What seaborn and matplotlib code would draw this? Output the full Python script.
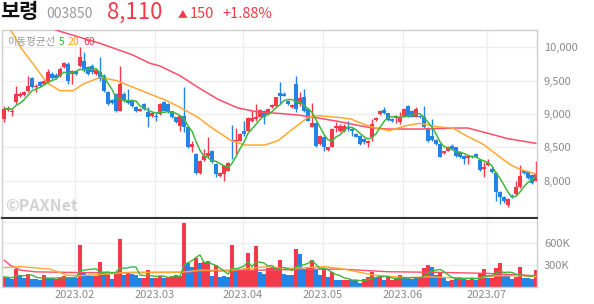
import numpy as np
import pandas as pd
import matplotlib
matplotlib.use("Agg")
import matplotlib.pyplot as plt
import seaborn as sns

# ---------------- data ----------------
opens = [8925, 9060, 9025, 9175, 9275, 9290, 9350, 9540, 9400, 9475,
         9450, 9475, 9600, 9590, 9575, 9700, 9750, 9600, 9650, 9725,
         9800, 9710, 9725, 9600, 9625, 9575, 9325, 9210, 9300, 9050,
         9300, 9210, 9210, 9110, 9050, 9150, 9025, 8975, 8975, 9000,
         9175, 9150, 9040, 8950, 8825, 8975, 8810, 8510, 8400, 8110,
         8310, 8375, 8450, 8250, 8075, 8100, 8150, 8615, 8600, 8600,
         8750, 8750, 8900, 8925, 8960, 9050, 9000, 9100, 9125, 9310,
         9300, 9200, 9100, 9450, 9150, 9250, 9075, 8810, 8860, 8550,
         8660, 8460, 8510, 8790, 8740, 8740, 8810, 8775, 8700, 8675,
         8625, 8570, 8650, 8910, 9000, 9060, 9010, 8925, 8940, 8875,
         8960, 9125, 9050, 8960, 8975, 8960, 8790, 8675, 8610, 8550,
         8410, 8450, 8525, 8500, 8425, 8375, 8340, 8350, 8400, 8310,
         8175, 8240, 8175, 8110, 7825, 7760, 7630, 7775, 7800, 7900,
         8150, 8125, 8090, 8000]
highs = [9125, 9125, 9075, 9425, 9325, 9350, 9575, 9560, 9450, 9500,
         9525, 9675, 9625, 9610, 9700, 9780, 9775, 9660, 9660, 10000,
         9925, 9725, 9750, 9680, 9850, 9600, 9350, 9225, 9310, 9725,
         9325, 9375, 9225, 9125, 9090, 9160, 9100, 9025, 9025, 9160,
         9200, 9160, 9050, 8960, 8990, 9400, 8820, 8600, 8410, 8310,
         8475, 8650, 8460, 8260, 8125, 8235, 8275, 8840, 8790, 8710,
         8900, 8950, 9050, 9150, 9070, 9060, 9090, 9150, 9260, 9475,
         9325, 9210, 9150, 9575, 9325, 9375, 9090, 9160, 8875, 8690,
         8670, 8510, 8790, 8875, 8850, 8850, 8900, 8790, 8710, 8690,
         8640, 8610, 8925, 8960, 9060, 9110, 9020, 8935, 8980, 9025,
         9090, 9135, 9060, 9100, 8990, 9125, 8800, 8925, 8620, 8560,
         8450, 8520, 8550, 8510, 8435, 8385, 8390, 8385, 8410, 8320,
         8275, 8325, 8200, 8125, 7850, 7775, 7740, 7800, 8000, 8230,
         8160, 8140, 8100, 8300]
lows = [8875, 9050, 8975, 9150, 9250, 9275, 9325, 9390, 9325, 9400,
        9440, 9450, 9525, 9520, 9560, 9690, 9450, 9450, 9590, 9710,
        9625, 9590, 9600, 9590, 9500, 9325, 9140, 9150, 9025, 9050,
        9175, 9150, 9110, 9025, 9040, 9060, 8800, 8960, 8900, 8990,
        9040, 9010, 8940, 8860, 8750, 8725, 8490, 8425, 8100, 8100,
        8300, 8350, 8260, 8050, 8060, 8000, 8140, 8325, 8400, 8590,
        8675, 8740, 8875, 8900, 8950, 8850, 8990, 9090, 9110, 9150,
        9265, 9140, 9090, 9025, 9125, 9025, 8890, 8800, 8510, 8540,
        8450, 8440, 8500, 8725, 8730, 8730, 8750, 8675, 8650, 8540,
        8550, 8510, 8600, 8900, 8990, 9000, 8900, 8880, 8860, 8850,
        8950, 8950, 8950, 8950, 8940, 8790, 8580, 8600, 8540, 8350,
        8400, 8440, 8470, 8360, 8340, 8250, 8250, 8340, 8350, 8150,
        8050, 8225, 8110, 7700, 7650, 7660, 7600, 7740, 7775, 7890,
        8100, 8030, 7950, 7990]
closes = [9075, 9085, 9050, 9300, 9300, 9325, 9425, 9400, 9425, 9425,
          9500, 9625, 9540, 9540, 9675, 9760, 9500, 9650, 9600, 9850,
          9675, 9600, 9625, 9660, 9525, 9350, 9150, 9160, 9040, 9450,
          9200, 9160, 9125, 9040, 9075, 9075, 8960, 9010, 8950, 9150,
          9050, 9025, 8950, 8875, 8975, 8810, 8500, 8550, 8110, 8300,
          8375, 8410, 8275, 8100, 8110, 8225, 8260, 8600, 8615, 8700,
          8700, 8940, 8940, 8950, 9060, 8950, 9075, 9140, 9250, 9275,
          9275, 9150, 9135, 9075, 9240, 9050, 8900, 8860, 8525, 8675,
          8510, 8500, 8775, 8825, 8825, 8825, 8775, 8740, 8660, 8550,
          8575, 8600, 8850, 8940, 9040, 9010, 8910, 8890, 8970, 8960,
          9080, 8960, 8960, 9075, 8950, 8800, 8590, 8610, 8550, 8360,
          8440, 8510, 8475, 8375, 8350, 8325, 8375, 8375, 8360, 8160,
          8210, 8260, 8125, 7825, 7760, 7700, 7730, 7750, 7900, 8075,
          8110, 8040, 7960, 8110]
volumes_k = [138, 124, 106, 244, 161, 124, 170, 106, 106, 92,
             161, 124, 115, 106, 124, 152, 124, 124, 124, 576,
             198, 161, 152, 152, 336, 198, 170, 106, 184, 659,
             161, 198, 170, 161, 115, 124, 230, 115, 124, 152,
             115, 138, 152, 161, 152, 876, 323, 277, 401, 323,
             346, 355, 148, 300, 138, 148, 138, 576, 230, 230,
             240, 461, 230, 562, 207, 171, 254, 277, 254, 369,
             171, 161, 161, 521, 447, 230, 254, 369, 244, 161,
             254, 138, 198, 92, 92, 92, 92, 92, 92, 55,
             106, 138, 198, 138, 138, 92, 138, 92, 115, 161,
             134, 115, 106, 115, 138, 263, 300, 277, 161, 198,
             115, 78, 92, 124, 138, 115, 92, 115, 92, 184,
             244, 124, 124, 263, 323, 148, 148, 106, 138, 267,
             115, 115, 101, 230]
vol_up = ("rbbrbbrbbb" "rbbrrrbbbr" "bbbrrbrbrr" "brbbbrrbrr" "brrrrrbbrb"
          "rrbrbbbrbr" "rrrrbbrrrr" "bbbrbbrrbb" "rbrbbrrbbb" "rrrbrbrrrr"
          "bbbbrrrbbr" "bbrbrbrrbr" "rbrrrbbbrr" "bbbr")

ma20_idx = [0, 2, 4.5, 7.3, 10.7, 14, 17.3, 19.8, 24, 28.2, 32.3, 36.5, 40.7, 44,
            48.5, 51.8, 56.8, 60.2, 65.2, 68.5, 72.7, 76, 78.5, 83.5, 86.8, 88.5,
            92.2, 96.3, 100.5, 103.8, 108, 112.2, 115.5, 119.7, 123, 126.3, 128.8, 133]
ma20_val = [10420, 10225, 9970, 9750, 9470, 9350, 9350, 9450, 9550, 9500, 9400, 9300, 9200, 9100,
            8950, 8800, 8600, 8535, 8535, 8600, 8800, 8950, 8975, 8950, 8925, 8880,
            8800, 8750, 8825, 8860, 8810, 8790, 8675, 8550, 8400, 8250, 8175, 8100]
ma60_idx = [10, 14, 24, 32, 36.5, 39, 44, 48.5, 53.5, 58.5, 63.5, 68.5, 73.5, 78.5,
            83.5, 88.5, 92, 96, 105, 113, 116, 121, 126, 133]
ma60_val = [10330, 10240, 10060, 9890, 9760, 9720, 9575, 9400, 9220, 9090, 9030, 9010, 8985, 8940,
            8890, 8830, 8790, 8775, 8775, 8790, 8790, 8710, 8630, 8560]
vma20_idx = [0, 4, 11.5, 15.7, 19, 24, 32, 39, 44, 49, 57, 66, 71.5, 80, 84, 92.3,
             100.7, 106.5, 111.5, 118, 123, 129.8, 133]
vma20_val = [263, 277, 244, 161, 152, 170, 198, 198, 198, 230, 230, 277, 254, 277, 254, 161,
             124, 138, 124, 115, 152, 152, 138]
vma60_idx = [0, 1.5, 4, 8, 20, 30, 40, 45, 50, 60, 70, 75, 84, 96, 109, 121, 133]
vma60_val = [369, 300, 230, 205, 195, 195, 198, 200, 215, 225, 235, 240, 244, 207, 198, 184, 152]

month_start_idx = [18, 38, 60, 80, 100, 121]
month_labels = ["2023.02", "2023.03", "2023.04", "2023.05", "2023.06", "2023.07"]
price_ticks = [8000, 8500, 9000, 9500, 10000]
vol_ticks_k = [300, 600]

# ---------------- style ----------------
RED = "#f23a4a"
BLUE = "#2484e6"
GREEN = "#3cb83c"
ORANGE = "#ffa933"
CRIMSON = "#ff4d6a"
GRID = "#eeeeee"
BORDER = "#cfcfcf"
TXT = "#8a8a8a"

sns.set_theme(style="white")
plt.rcParams['font.family'] = ['Noto Sans CJK KR', 'DejaVu Sans']

W, H = 594, 304
fig = plt.figure(figsize=(W / 100, H / 100), dpi=100)


def fx(px):
    return px / W


def fy(px):
    return 1 - px / H


ax = fig.add_axes([fx(2), fy(217.7), fx(535), (217.7 - 30) / H])
axv = fig.add_axes([fx(2), fy(287), fx(535), (287 - 218.5) / H])

df = pd.DataFrame({"o": opens, "h": highs, "l": lows, "c": closes, "v": volumes_k})
df["i"] = np.arange(len(df))
df["up"] = df["c"] >= df["o"]
df["col"] = np.where(df["up"], RED, BLUE)
df["ma5"] = df["c"].rolling(5, min_periods=1).mean()
df["vma5"] = df["v"].rolling(5, min_periods=1).mean()

# grids
for a in (ax, axv):
    for m in month_start_idx:
        a.axvline(m - 0.3, color=GRID, lw=1, zorder=0)
for p in price_ticks:
    ax.axhline(p, color=GRID, lw=1, zorder=0)
for v in vol_ticks_k + [900]:
    axv.axhline(v, color=GRID, lw=1, zorder=0)

# candles
ax.vlines(df["i"], df["l"], df["h"], colors=df["col"], lw=1.0, zorder=2)
body_h = (df["c"] - df["o"]).abs().clip(lower=15)
ax.bar(df["i"], body_h, bottom=np.minimum(df["o"], df["c"]), width=0.8,
       color=df["col"], linewidth=0, zorder=3)

# moving averages
sns.lineplot(x=ma60_idx, y=ma60_val, ax=ax, color=CRIMSON, lw=1.1, zorder=4, estimator=None)
sns.lineplot(x=ma20_idx, y=ma20_val, ax=ax, color=ORANGE, lw=1.1, zorder=4, estimator=None)
sns.lineplot(data=df, x="i", y="ma5", ax=ax, color=GREEN, lw=1.1, zorder=5, estimator=None)

# volume
vcols = [RED if f == "r" else BLUE for f in vol_up]
axv.bar(df["i"], df["v"], width=0.8, color=vcols, linewidth=0, zorder=2)
sns.lineplot(x=vma60_idx, y=vma60_val, ax=axv, color=CRIMSON, lw=1.0, zorder=4, estimator=None)
sns.lineplot(x=vma20_idx, y=vma20_val, ax=axv, color=ORANGE, lw=1.0, zorder=4, estimator=None)
sns.lineplot(data=df, x="i", y="vma5", ax=axv, color=GREEN, lw=1.0, zorder=5, estimator=None)

# axes limits
for a in (ax, axv):
    a.set_xlim(-0.5, -0.5 + 535 / 4)
    a.set_xlabel("")
    a.set_ylabel("")
ax.set_ylim(7445, 10260)
axv.set_ylim(-4, 943)

# ticks
ax.yaxis.tick_right()
ax.set_yticks(price_ticks)
ax.set_yticklabels([f"{p:,}" for p in price_ticks])
ax.tick_params(axis="y", length=0, pad=5, labelsize=8, labelcolor=TXT)
ax.set_xticks([])
axv.yaxis.tick_right()
axv.set_yticks([v for v in vol_ticks_k])
axv.set_yticklabels([f"{v}K" for v in vol_ticks_k])
axv.tick_params(axis="y", length=0, pad=5, labelsize=8, labelcolor=TXT)
axv.set_xticks([m - 0.3 for m in month_start_idx])
axv.set_xticklabels(month_labels)
axv.tick_params(axis="x", length=0, pad=2, labelsize=8, labelcolor=TXT)

# spines
for s in ("left", "top", "right"):
    ax.spines[s].set_color(BORDER)
    ax.spines[s].set_linewidth(1)
ax.spines["bottom"].set_color("#333333")
ax.spines["bottom"].set_linewidth(1.5)
for s in ("left", "right", "bottom"):
    axv.spines[s].set_color(BORDER)
    axv.spines[s].set_linewidth(1)
axv.spines["top"].set_visible(False)

# header texts
fig.text(fx(0), fy(18.5), "보령", fontsize=15, fontweight="bold", color="#111111", va="baseline")
fig.text(fx(46), fy(18.5), "003850", fontsize=10, color="#999999", va="baseline")
fig.text(fx(107), fy(18.5), "8,110", fontsize=16, color=RED, va="baseline")
fig.text(fx(178), fy(17), "▲", fontsize=7, color=RED, va="baseline")
fig.text(fx(190), fy(18.5), "150", fontsize=10.5, color=RED, va="baseline")
fig.text(fx(222), fy(18.5), "+1.88%", fontsize=10.5, color=RED, va="baseline")

# legend
fig.text(fx(7), fy(45), "이동평균선", fontsize=7.5, color="#999999", va="baseline")
fig.text(fx(59), fy(45), "5", fontsize=7.5, color="#2db52d", va="baseline")
fig.text(fx(68), fy(45), "20", fontsize=7.5, color="#ffa31a", va="baseline")
fig.text(fx(83), fy(45), "60", fontsize=7.5, color="#ff3355", va="baseline")

# watermark
fig.text(fx(5), fy(211), "©PAXNet", fontsize=11.5, fontweight="bold", color="#d2d2d2", va="baseline")

fig.savefig("out.png", dpi=100)
